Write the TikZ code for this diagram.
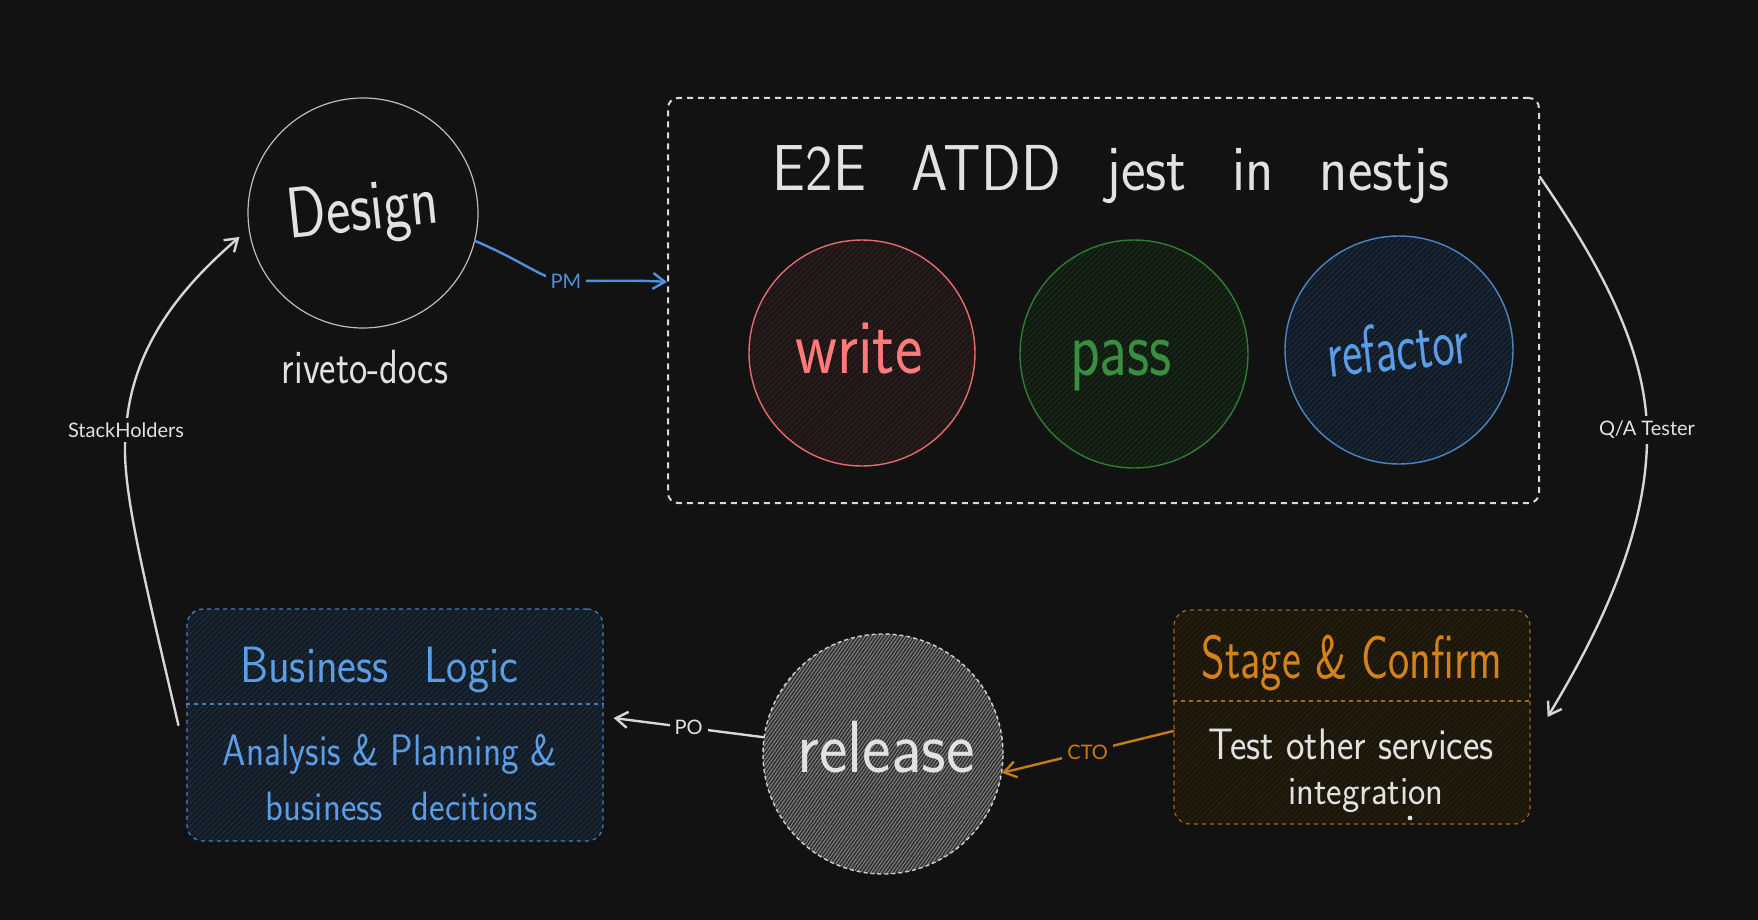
\documentclass[tikz,border=0pt]{standalone}
\usepackage{fontspec}
\usepackage{graphicx}
\setmainfont{Lato}
\usetikzlibrary{arrows.meta,patterns.meta,calc}
\definecolor{bg}{HTML}{121212}
\definecolor{txtw}{HTML}{E2E2E2}
\definecolor{linec}{HTML}{D6D6D6}
\definecolor{designc}{HTML}{BDBDBD}
\definecolor{boxw}{HTML}{DADADA}
\definecolor{writec}{HTML}{E56B6B}
\definecolor{writef}{HTML}{1E1616}
\definecolor{writeh}{HTML}{3C2424}
\definecolor{writet}{HTML}{FF7B7B}
\definecolor{passc}{HTML}{2E7D32}
\definecolor{passf}{HTML}{111A11}
\definecolor{passh}{HTML}{1F381F}
\definecolor{passt}{HTML}{3A8E3F}
\definecolor{refc}{HTML}{4A86C5}
\definecolor{reff}{HTML}{121A24}
\definecolor{refh}{HTML}{213650}
\definecolor{reft}{HTML}{5B9EE6}
\definecolor{bizc}{HTML}{4A80C0}
\definecolor{bizf}{HTML}{131B25}
\definecolor{bizh}{HTML}{243548}
\definecolor{bizt}{HTML}{5B9EE6}
\definecolor{stagec}{HTML}{A0690F}
\definecolor{stagef}{HTML}{1B160B}
\definecolor{stageh}{HTML}{30260F}
\definecolor{staget}{HTML}{D4821A}
\definecolor{relc}{HTML}{D0D0D0}
\definecolor{relf}{HTML}{333333}
\definecolor{relh}{HTML}{8E8E8E}
\definecolor{pmc}{HTML}{4F8FDC}
\definecolor{ctoc}{HTML}{C97A18}
\newcommand{\handtext}[3]{\scalebox{#2}[1]{\sffamily\fontsize{#1}{#1}\selectfont #3}}
\tikzset{
  htxt/.style={inner sep=0pt, anchor=base},
  lbl/.style={fill=bg, inner sep=2.5pt, font=\fontsize{10pt}{11pt}\selectfont},
  conn/.style={line width=1.2pt, line cap=round, -{Straight Barb[length=6pt,width=8pt]}},
  hatch/.style 2 args={preaction={fill=#1}, pattern={Lines[angle=45,distance=2pt,line width=0.3pt]}, pattern color=#2},
  roundnode/.style={circle, inner sep=0pt, line width=0.7pt},
  boxnode/.style={inner sep=0pt, line width=0.6pt, dash pattern=on 2pt off 2pt, rounded corners=8pt},
}
\begin{document}
\begin{tikzpicture}[x=0.5pt, y=-0.5pt]
\fill[bg] (0,0) rectangle (1758,920);
\useasboundingbox (0,0) rectangle (1758,920);

% Design (text inside the circle node, rotated; anchors rotate by 6 degrees)
\node[roundnode, draw=designc, line width=0.6pt, minimum size=115pt, rotate=6, text=txtw] (design) at (363,213) {\handtext{36pt}{0.8}{Design}};
\node[htxt, text=txtw] (docs) at (365,383) {\handtext{24pt}{0.81}{riveto-docs}};

% ATDD box
\node[draw=boxw, line width=1pt, dash pattern=on 3pt off 2.5pt, rounded corners=5pt, minimum width=435.5pt, minimum height=202.5pt, inner sep=0pt] (atdd) at (1103.5,300.5) {};
\node[htxt, text=txtw] (title) at (1111,191) {\handtext{32.5pt}{0.9}{E2E\hspace{25.5pt}ATDD\hspace{25.5pt}jest\hspace{25.5pt}in\hspace{25.5pt}nestjs}};

% write pass refactor
\node[roundnode, draw=writec, minimum size=113pt, hatch={writef}{writeh}] (write) at (862,353) {};
\node[htxt, text=writet] (writetxt) at (859,373) {\handtext{39pt}{0.84}{write}};
\node[roundnode, draw=passc, minimum size=114pt, hatch={passf}{passh}] (pass) at (1134,354) {};
\node[htxt, text=passt] (passtxt) at (1121,375) {\handtext{40pt}{0.77}{pass}};
\node[roundnode, draw=refc, minimum size=114pt, hatch={reff}{refh}] (refactor) at (1399,350) {};
\node[htxt, rotate=6, text=reft] (reftxt) at (1400,370) {\handtext{34pt}{0.7}{refactor}};

% release
\node[roundnode, draw=relc, dash pattern=on 2pt off 1.5pt, minimum size=120pt, preaction={fill=relf}, pattern={Lines[angle=55,distance=1.4pt,line width=0.4pt]}, pattern color=relh] (release) at (883,754) {};
\node[htxt, text=txtw] (reltxt) at (886,772) {\handtext{37pt}{0.92}{release}};

% business box
\node[boxnode, draw=bizc, minimum width=208pt, minimum height=116pt, hatch={bizf}{bizh}] (biz) at (395,725) {};
\draw[bizc, line width=0.6pt, dash pattern=on 2pt off 2pt] ([yshift=10.5pt]biz.west) -- ([yshift=10.5pt]biz.east);
\node[htxt, text=bizt] (biztitle) at (379,682) {\handtext{25.5pt}{0.88}{Business\hspace{20pt}Logic}};
\node[htxt, text=bizt] (bizl1) at (390,765) {\handtext{22pt}{0.85}{Analysis \& Planning \&}};
\node[htxt, text=bizt] (bizl2) at (402,820) {\handtext{20.5pt}{0.9}{business\hspace{16pt}decitions}};

% stage box
\node[boxnode, draw=stagec, minimum width=178pt, minimum height=107pt, hatch={stagef}{stageh}] (stage) at (1352,717) {};
\draw[stagec, line width=0.6pt, dash pattern=on 2pt off 2pt] ([yshift=8pt]stage.west) -- ([yshift=8pt]stage.east);
\node[htxt, text=staget] (stagetitle) at (1352,678) {\handtext{30.5pt}{0.74}{Stage \& Confirm}};
\node[htxt, text=txtw] (stagel1) at (1351,759) {\handtext{22pt}{0.89}{Test other services}};
\node[htxt, text=txtw] (stagel2) at (1366,804) {\handtext{20pt}{0.92}{integration}};
\fill[txtw] (1410,818) circle (1.2pt);

% connectors
\draw[conn, pmc] (design.-20) .. controls (525,262) and (545,281) .. (566,281)
  node[lbl, text=pmc] (pmlbl) {PM}
  .. controls (600,281) and (640,280) .. ([yshift=9.25pt]atdd.west);
\draw[conn, linec, shorten >=6pt] ([xshift=-4pt]biz.west) .. controls (140,560) and (120,480) .. (126,430)
  node[lbl, text=txtw] (shlbl) {StackHolders}
  .. controls (132,340) and (190,280) .. (design.182);
\draw[conn, linec] ([yshift=61.75pt]atdd.east) .. controls (1590,250) and (1645,340) .. (1647,430)
  node[lbl, text=txtw] (qalbl) {Q/A Tester}
  .. controls (1649,530) and (1600,630) .. ([xshift=8.5pt]stage.east);
\draw[conn, ctoc] ([yshift=-7pt]stage.west) -- node[lbl, text=ctoc] (ctolbl) {CTO} (release.-9);
\draw[conn, linec] (release.172) -- node[lbl, text=txtw] (polbl) {PO} ([xshift=5pt,yshift=3.5pt]biz.east);
\end{tikzpicture}
\end{document}
